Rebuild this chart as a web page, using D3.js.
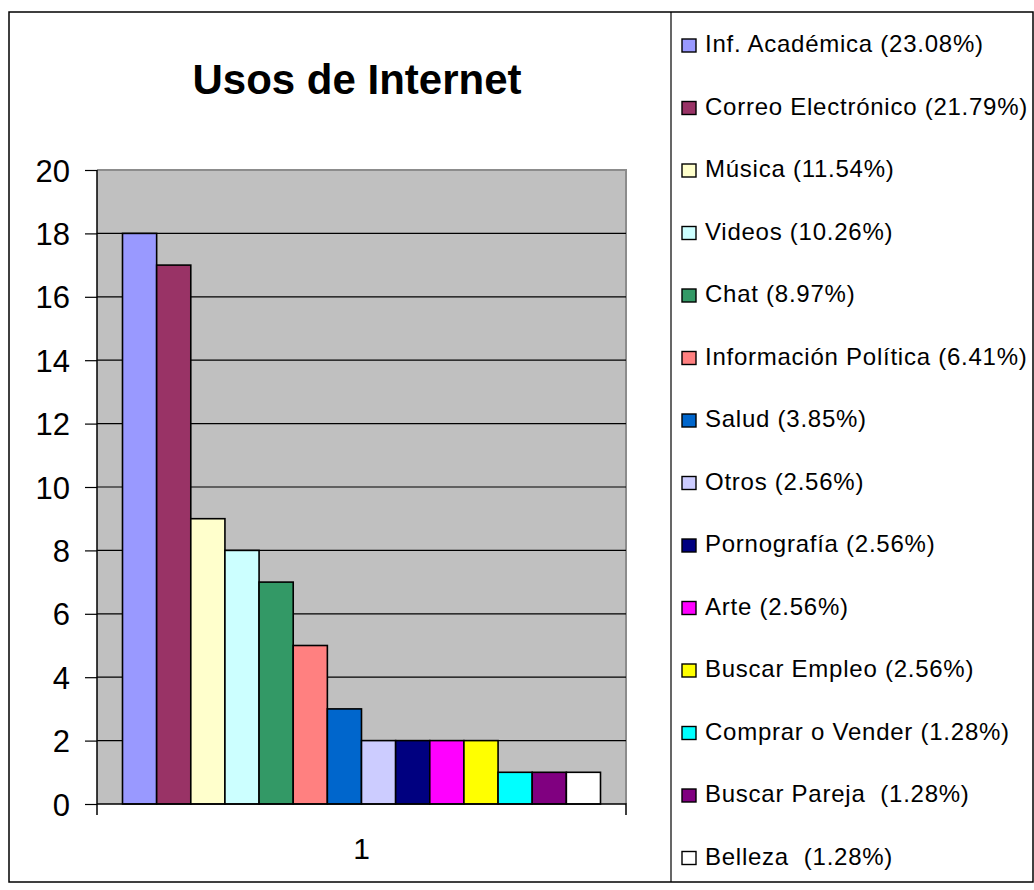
<!DOCTYPE html>
<html>
<head>
<meta charset="utf-8">
<script src="https://cdn.jsdelivr.net/npm/d3@7"></script>
<style>
  body { margin: 0; background: #fff; }
  text { font-family: Arial, "Liberation Sans", sans-serif; }
</style>
</head>
<body>
<div id="vis1"></div>
<script>
// chart values
const names = ["Inf. Académica", "Correo Electrónico", "Música", "Videos", "Chat",
               "Información Política", "Salud", "Otros", "Pornografía", "Arte",
               "Buscar Empleo", "Comprar o Vender", "Buscar Pareja ", "Belleza "];
const values = [18, 17, 9, 8, 7, 5, 3, 2, 2, 2, 2, 1, 1, 1];
const percents = ["23.08%", "21.79%", "11.54%", "10.26%", "8.97%", "6.41%", "3.85%",
                  "2.56%", "2.56%", "2.56%", "2.56%", "1.28%", "1.28%", "1.28%"];
const colors = ["#9999ff", "#993366", "#ffffcc", "#ccffff", "#339966", "#ff8080", "#0066cc",
                "#ccccff", "#000080", "#ff00ff", "#ffff00", "#00ffff", "#800080", "#ffffff"];
const categories = ["1"];
const yTicks = [0, 2, 4, 6, 8, 10, 12, 14, 16, 18, 20];

const FRAME_WIDTH = 1034;
const FRAME_HEIGHT = 890;
const PLOT = {left: 97, right: 626, top: 170, bottom: 804};
const BOX_BOTTOM = 882;

const svg = d3.select("#vis1")
  .append("svg")
    .attr("width", FRAME_WIDTH)
    .attr("height", FRAME_HEIGHT);

// outer frame + legend box
svg.append("rect")
  .attr("x", 9).attr("y", 12)
  .attr("width", 1024).attr("height", BOX_BOTTOM - 12)
  .attr("fill", "#fff").attr("stroke", "#000").attr("stroke-width", 1.5);

svg.append("line")
  .attr("x1", 671).attr("x2", 671).attr("y1", 12).attr("y2", BOX_BOTTOM)
  .attr("stroke", "#000").attr("stroke-width", 1.2);

// title
svg.append("text")
  .attr("x", 357).attr("y", 94)
  .attr("text-anchor", "middle")
  .attr("font-size", "42px").attr("font-weight", "bold")
  .text("Usos de Internet");

const Y_SCALE = d3.scaleLinear().domain([0, 20]).range([PLOT.bottom, PLOT.top]);
const X_CAT = d3.scaleBand().domain(categories).range([PLOT.left, PLOT.right]);
const X_BAR = d3.scaleBand().domain(names).range([0, 478]);

// plot area
svg.append("rect")
  .attr("x", PLOT.left).attr("y", PLOT.top)
  .attr("width", PLOT.right - PLOT.left).attr("height", PLOT.bottom - PLOT.top)
  .attr("fill", "#c0c0c0");

svg.append("path")
  .attr("d", `M${PLOT.left},${PLOT.top}H${PLOT.right}V${PLOT.bottom}`)
  .attr("fill", "none").attr("stroke", "#8c8c8c").attr("stroke-width", 2);

// gridlines
svg.selectAll(".grid")
  .data(yTicks.filter(d => d > 0 && d < 20))
  .enter()
  .append("line")
    .attr("x1", PLOT.left).attr("x2", PLOT.right)
    .attr("y1", d => Y_SCALE(d)).attr("y2", d => Y_SCALE(d))
    .attr("stroke", "#000").attr("stroke-width", 1.2);

// bars, centred in the single category
const barStart = X_CAT("1") + (X_CAT.bandwidth() - 478) / 2;
svg.selectAll(".bar")
  .data(values)
  .enter()
  .append("rect")
    .attr("x", (d, i) => barStart + X_BAR(names[i]))
    .attr("y", d => Y_SCALE(d))
    .attr("width", X_BAR.bandwidth())
    .attr("height", d => PLOT.bottom - Y_SCALE(d))
    .attr("fill", (d, i) => colors[i])
    .attr("stroke", "#000").attr("stroke-width", 1.6);

// y axis
const yAxis = svg.append("g")
  .attr("transform", "translate(" + PLOT.left + ",0)")
  .call(d3.axisLeft(Y_SCALE).tickValues(yTicks).tickSize(12).tickPadding(15));
yAxis.select(".domain").attr("stroke-width", 1.5).attr("d", `M0,${PLOT.top}V${PLOT.bottom + 11}`);
yAxis.selectAll("line").attr("stroke-width", 1.2);
yAxis.selectAll("text").attr("font-size", "31px").attr("fill", "#000")
  .attr("font-family", "Arial, 'Liberation Sans', sans-serif").attr("dy", "0.36em");

// x axis
const xAxis = svg.append("g")
  .attr("transform", "translate(0," + PLOT.bottom + ")")
  .call(d3.axisBottom(X_CAT).tickSize(0).tickPadding(34));
xAxis.select(".domain").attr("stroke-width", 1.5).attr("d", `M${PLOT.left},0H${PLOT.right}V11`);
xAxis.selectAll("text").attr("font-size", "30px").attr("fill", "#000")
  .attr("font-family", "Arial, 'Liberation Sans', sans-serif");

// legend
const legend = svg.selectAll(".legend")
  .data(names)
  .enter()
  .append("g")
    .attr("transform", (d, i) => "translate(682," + (52 + i * 62.5) + ")");

legend.append("rect")
  .attr("x", 0).attr("y", -13)
  .attr("width", 14).attr("height", 13)
  .attr("fill", (d, i) => colors[i])
  .attr("stroke", "#000").attr("stroke-width", 1.4);

legend.append("text")
  .attr("x", 23).attr("y", 0)
  .attr("font-size", "24px")
  .attr("letter-spacing", "0.75px")
  .style("white-space", "pre")
  .text((d, i) => d + " (" + percents[i] + ")");
</script>
</body>
</html>
